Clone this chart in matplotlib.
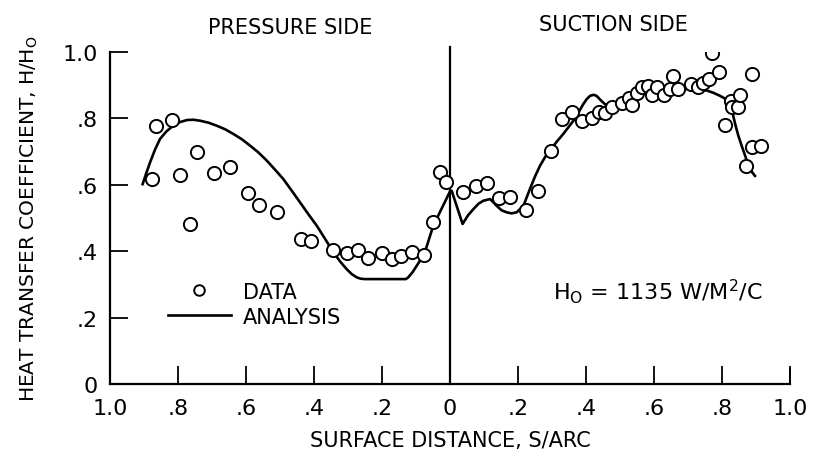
import matplotlib
matplotlib.use('Agg')
import matplotlib.pyplot as plt
import numpy as np

plt.rcParams['font.family'] = ['DejaVu Sans']
plt.rcParams['mathtext.fontset'] = 'dejavusans'

# surface distance: pressure side stored as negative, suction side positive
data_s = [
    -0.876, -0.865, -0.818, -0.794, -0.764, -0.743, -0.695, -0.646, -0.594,
    -0.563, -0.509, -0.439, -0.408, -0.344, -0.304, -0.271, -0.241, -0.201,
    -0.170, -0.143, -0.113, -0.077, -0.051, -0.028, -0.012,
    0.037, 0.076, 0.108, 0.143, 0.176, 0.224, 0.258, 0.296, 0.329, 0.360,
    0.389, 0.419, 0.439, 0.457, 0.476, 0.505, 0.526, 0.535, 0.551, 0.565,
    0.581, 0.594, 0.609, 0.628, 0.646, 0.655, 0.670, 0.710, 0.730, 0.745,
    0.763, 0.771, 0.792, 0.810, 0.827, 0.830, 0.846, 0.854, 0.871, 0.888,
    0.889, 0.915,
]
data_h = [
    0.617, 0.776, 0.796, 0.630, 0.481, 0.700, 0.635, 0.653, 0.576,
    0.540, 0.519, 0.437, 0.432, 0.404, 0.394, 0.405, 0.381, 0.395,
    0.377, 0.387, 0.398, 0.389, 0.487, 0.638, 0.607,
    0.577, 0.597, 0.604, 0.560, 0.564, 0.524, 0.582, 0.703, 0.798, 0.820,
    0.791, 0.802, 0.820, 0.816, 0.835, 0.845, 0.860, 0.840, 0.877, 0.896,
    0.898, 0.870, 0.896, 0.870, 0.889, 0.929, 0.889, 0.904, 0.894, 0.908,
    0.920, 0.997, 0.941, 0.781, 0.853, 0.833, 0.835, 0.870, 0.658, 0.714,
    0.934, 0.717,
]

analysis_s = [
    -0.904, -0.893, -0.882, -0.868, -0.853, -0.834, -0.814, -0.794, -0.774,
    -0.755, -0.735, -0.710, -0.686, -0.661, -0.637, -0.612, -0.588, -0.563,
    -0.539, -0.515, -0.490, -0.466, -0.441, -0.417, -0.392, -0.368, -0.343,
    -0.324, -0.304, -0.289, -0.274, -0.262, -0.250, -0.130,
    -0.123, -0.110, -0.098, -0.086, -0.074, -0.049, 0.0,
    0.005, 0.037, 0.053, 0.069, 0.084, 0.098, 0.118, 0.137, 0.152, 0.167,
    0.181, 0.196, 0.216, 0.235, 0.250, 0.265, 0.280, 0.294, 0.314, 0.333,
    0.348, 0.363, 0.378, 0.392, 0.402, 0.412, 0.422, 0.431, 0.446, 0.461,
    0.480, 0.500, 0.520, 0.539, 0.559, 0.579, 0.608, 0.637, 0.667, 0.696,
    0.725, 0.755, 0.775, 0.794, 0.810, 0.824, 0.829, 0.833, 0.840, 0.848,
    0.858, 0.868, 0.875, 0.882, 0.890, 0.897,
]
analysis_h = [
    0.602, 0.636, 0.668, 0.705, 0.738, 0.761, 0.778, 0.789, 0.795,
    0.796, 0.793, 0.787, 0.778, 0.767, 0.753, 0.737, 0.718, 0.697,
    0.673, 0.646, 0.617, 0.583, 0.547, 0.512, 0.477, 0.438, 0.397,
    0.370, 0.346, 0.331, 0.321, 0.317, 0.316, 0.316,
    0.321, 0.337, 0.356, 0.375, 0.397, 0.477, 0.580,
    0.582, 0.482, 0.508, 0.527, 0.543, 0.552, 0.557, 0.537, 0.523, 0.517,
    0.514, 0.517, 0.537, 0.587, 0.625, 0.658, 0.684, 0.703, 0.730, 0.753,
    0.773, 0.793, 0.818, 0.843, 0.858, 0.868, 0.871, 0.868, 0.852, 0.838,
    0.838, 0.843, 0.853, 0.864, 0.872, 0.879, 0.882, 0.884, 0.887, 0.889,
    0.888, 0.884, 0.877, 0.868, 0.859, 0.849, 0.830, 0.808, 0.778, 0.748,
    0.717, 0.688, 0.666, 0.648, 0.636, 0.627,
]

x_ticks = [-1.0, -0.8, -0.6, -0.4, -0.2, 0.0, 0.2, 0.4, 0.6, 0.8, 1.0]
x_tick_labels = ['1.0', '.8', '.6', '.4', '.2', '0', '.2', '.4', '.6', '.8', '1.0']
y_ticks = [0.0, 0.2, 0.4, 0.6, 0.8, 1.0]
y_tick_labels = ['0', '.2', '.4', '.6', '.8', '1.0']

fig = plt.figure(figsize=(8.19, 4.6), dpi=100)
ax = fig.add_axes([110 / 819, 75 / 460, 680 / 819, 332 / 460])

ax.plot(data_s, data_h, 'o', ms=9.5, mfc='white', mec='black', mew=1.4,
        label='DATA', zorder=3)
ax.plot(analysis_s, analysis_h, '-', color='black', lw=1.9, label='ANALYSIS',
        zorder=2)
# leading edge divider, runs a little past the top of the axis
ax.plot([0, 0], [0, 1.015], color='black', lw=1.6, clip_on=False)

ax.set_xlim(-1.0, 1.0)
ax.set_ylim(0, 1.0)
ax.set_xticks(x_ticks)
ax.set_xticklabels(x_tick_labels)
ax.set_yticks(y_ticks)
ax.set_yticklabels(y_tick_labels)

for side in ['top', 'right']:
    ax.spines[side].set_visible(False)
for side in ['left', 'bottom']:
    ax.spines[side].set_linewidth(1.6)

ax.tick_params(axis='x', direction='in', length=13, width=1.3, pad=10,
               labelsize=16)
ax.tick_params(axis='y', direction='in', length=13, width=1.3, pad=9,
               labelsize=16)
# upward tick at the right end of the axis
ax.plot([1.0, 1.0], [0, 0.045], color='black', lw=1.3, clip_on=False)

ax.set_xlabel('SURFACE DISTANCE, S/ARC', fontsize=15, labelpad=9)
ax.set_ylabel(r'HEAT TRANSFER COEFFICIENT, H/H$_\mathregular{O}$', fontsize=14.5,
              labelpad=16)

ax.text(-0.47, 1.075, 'PRESSURE SIDE', fontsize=15, ha='center', va='center',
        transform=ax.transData, clip_on=False)
ax.text(0.48, 1.085, 'SUCTION SIDE', fontsize=15, ha='center', va='center',
        transform=ax.transData, clip_on=False)
ax.text(0.61, 0.28, r'H$_\mathregular{O}$ = 1135 W/M$^\mathregular{2}$/C',
        fontsize=16, ha='center', va='center')

leg = ax.legend(loc='upper left', bbox_to_anchor=(0.07, 0.34), frameon=False,
                fontsize=15, handlelength=3.0, handletextpad=0.6,
                labelspacing=0.25, borderpad=0, markerscale=0.8)

fig.savefig('out.png', dpi=100)
